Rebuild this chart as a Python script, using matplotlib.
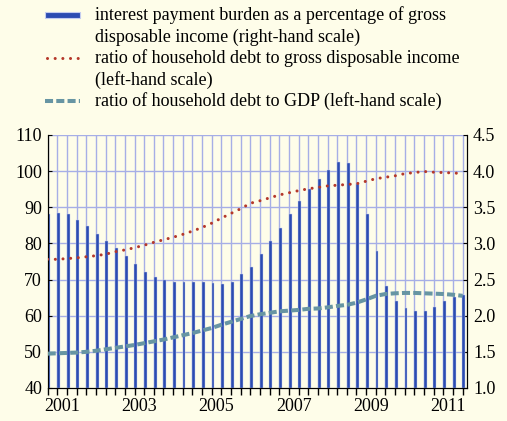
import numpy as np
import matplotlib
matplotlib.use("Agg")
import matplotlib.pyplot as plt
from matplotlib.lines import Line2D
from matplotlib.patches import Rectangle

# quarterly data, 2001 Q1 - 2011 Q4
year_labels = ["2001", "2003", "2005", "2007", "2009", "2011"]

interest_burden = [3.40, 3.42, 3.40, 3.32, 3.24, 3.13, 3.03, 2.93, 2.83, 2.72, 2.61,
                   2.54, 2.50, 2.47, 2.47, 2.46, 2.46, 2.45, 2.44, 2.47, 2.57, 2.68,
                   2.86, 3.04, 3.22, 3.40, 3.59, 3.75, 3.89, 4.01, 4.12, 4.11, 3.82,
                   3.40, 2.89, 2.41, 2.21, 2.10, 2.06, 2.07, 2.12, 2.21, 2.26, 2.28]

debt_to_income = [75.6, 75.6, 75.8, 76.0, 76.3, 76.6, 77.0, 77.7, 78.2, 78.8, 79.5,
                  80.3, 81.0, 81.7, 82.5, 83.4, 84.4, 85.6, 87.0, 88.3, 89.6, 91.1,
                  91.8, 92.6, 93.4, 94.0, 94.6, 95.1, 95.5, 95.9, 96.1, 96.3, 96.5,
                  97.2, 97.9, 98.3, 98.7, 99.3, 99.6, 99.9, 99.7, 99.6, 99.5, 99.3]

debt_to_gdp = [49.5, 49.6, 49.7, 49.8, 50.0, 50.3, 50.7, 51.1, 51.5, 51.9, 52.4,
               52.9, 53.4, 54.0, 54.6, 55.2, 55.9, 56.6, 57.5, 58.3, 59.1, 59.9,
               60.4, 60.8, 61.2, 61.4, 61.6, 61.9, 62.0, 62.3, 62.7, 63.0, 63.6,
               64.5, 65.5, 66.0, 66.2, 66.3, 66.3, 66.2, 66.1, 66.0, 65.8, 65.5]

bg = "#fefde9"
blue = "#2c4cb2"
red = "#b5382a"
teal = "#6795a3"
grid = "#a6aee6"

plt.rcParams["font.family"] = ["Liberation Serif", "DejaVu Serif"]

fig = plt.figure(figsize=(5.07, 4.21), dpi=100, facecolor=bg)
ax = fig.add_axes([0.094, 0.0784, 0.828, 0.601])
ax2 = ax.twinx()
ax.set_zorder(ax2.get_zorder() + 1)
ax.patch.set_visible(False)
ax2.patch.set_facecolor(bg)

x = np.arange(len(interest_burden))

# grid behind the bars
for i in x:
    ax2.axvline(i, color=grid, lw=1, zorder=0)
for v in np.arange(1.5, 4.51, 0.5):
    ax2.axhline(v, color=grid, lw=1, zorder=0)

ax2.bar(x + 0.13, np.array(interest_burden) - 1.0, bottom=1.0, width=0.3,
        color=blue, edgecolor="#c4ccf0", linewidth=0.3, zorder=2)

ax.plot(x, debt_to_income, color=red, lw=2.2, linestyle=(0, (0.01, 2.5)),
        dash_capstyle="round", zorder=3)
ax.plot(x, debt_to_gdp, color=teal, lw=2.9, linestyle=(0, (2, 0.8)), zorder=3)

ax.set_xlim(0, 43.5)
ax.set_ylim(40, 110)
ax2.set_ylim(1.0, 4.5)
ax.set_yticks(range(40, 111, 10))
ax2.set_yticks(np.arange(1.0, 4.51, 0.5))
ax2.set_yticklabels([f"{v:.1f}" for v in np.arange(1.0, 4.51, 0.5)])

ax.set_xticks([4 * (int(y) - 2001) + 1.5 for y in year_labels])
ax.set_xticklabels(year_labels)
ax.set_xticks(np.arange(0, 44), minor=True)
ax.tick_params(axis="x", which="major", length=0, pad=7, labelsize=13)
ax.tick_params(axis="x", which="minor", length=5, width=1, direction="out", color="black")
ax.tick_params(axis="y", length=3, direction="in", labelsize=13, pad=4)
ax2.tick_params(axis="y", length=3, direction="in", labelsize=13, pad=4)

for a in (ax, ax2):
    a.spines["top"].set_visible(False)
    a.spines["left"].set_color("black")
    a.spines["right"].set_color("black")
    a.spines["bottom"].set_color("black")
    a.spines["bottom"].set_linewidth(0.8)

# legend drawn by hand so handles line up with the first text line
W, H = 507, 421


def fx(px):
    return px / W


def fy(py):
    return 1 - py / H


fig.patches.append(Rectangle((fx(45), fy(17.5)), fx(35), 5 / H, transform=fig.transFigure,
                             facecolor=blue, edgecolor="#c4ccf0", lw=0.8))
fig.lines.append(Line2D([fx(47), fx(80)], [fy(58), fy(58)], transform=fig.transFigure,
                        color=red, lw=2.2, linestyle=(0, (0.01, 2.5)), dash_capstyle="round"))
fig.lines.append(Line2D([fx(45), fx(80)], [fy(101), fy(101)], transform=fig.transFigure,
                        color=teal, lw=2.9, linestyle=(0, (2, 0.8))))

legend_lines = [
    (15, "interest payment burden as a percentage of gross"),
    (37, "disposable income (right-hand scale)"),
    (58, "ratio of household debt to gross disposable income"),
    (80, "(left-hand scale)"),
    (101, "ratio of household debt to GDP (left-hand scale)"),
]
for py, t in legend_lines:
    fig.text(fx(95), fy(py), t, fontsize=13, va="center", ha="left")

fig.savefig("out.png", dpi=100, facecolor=bg)
